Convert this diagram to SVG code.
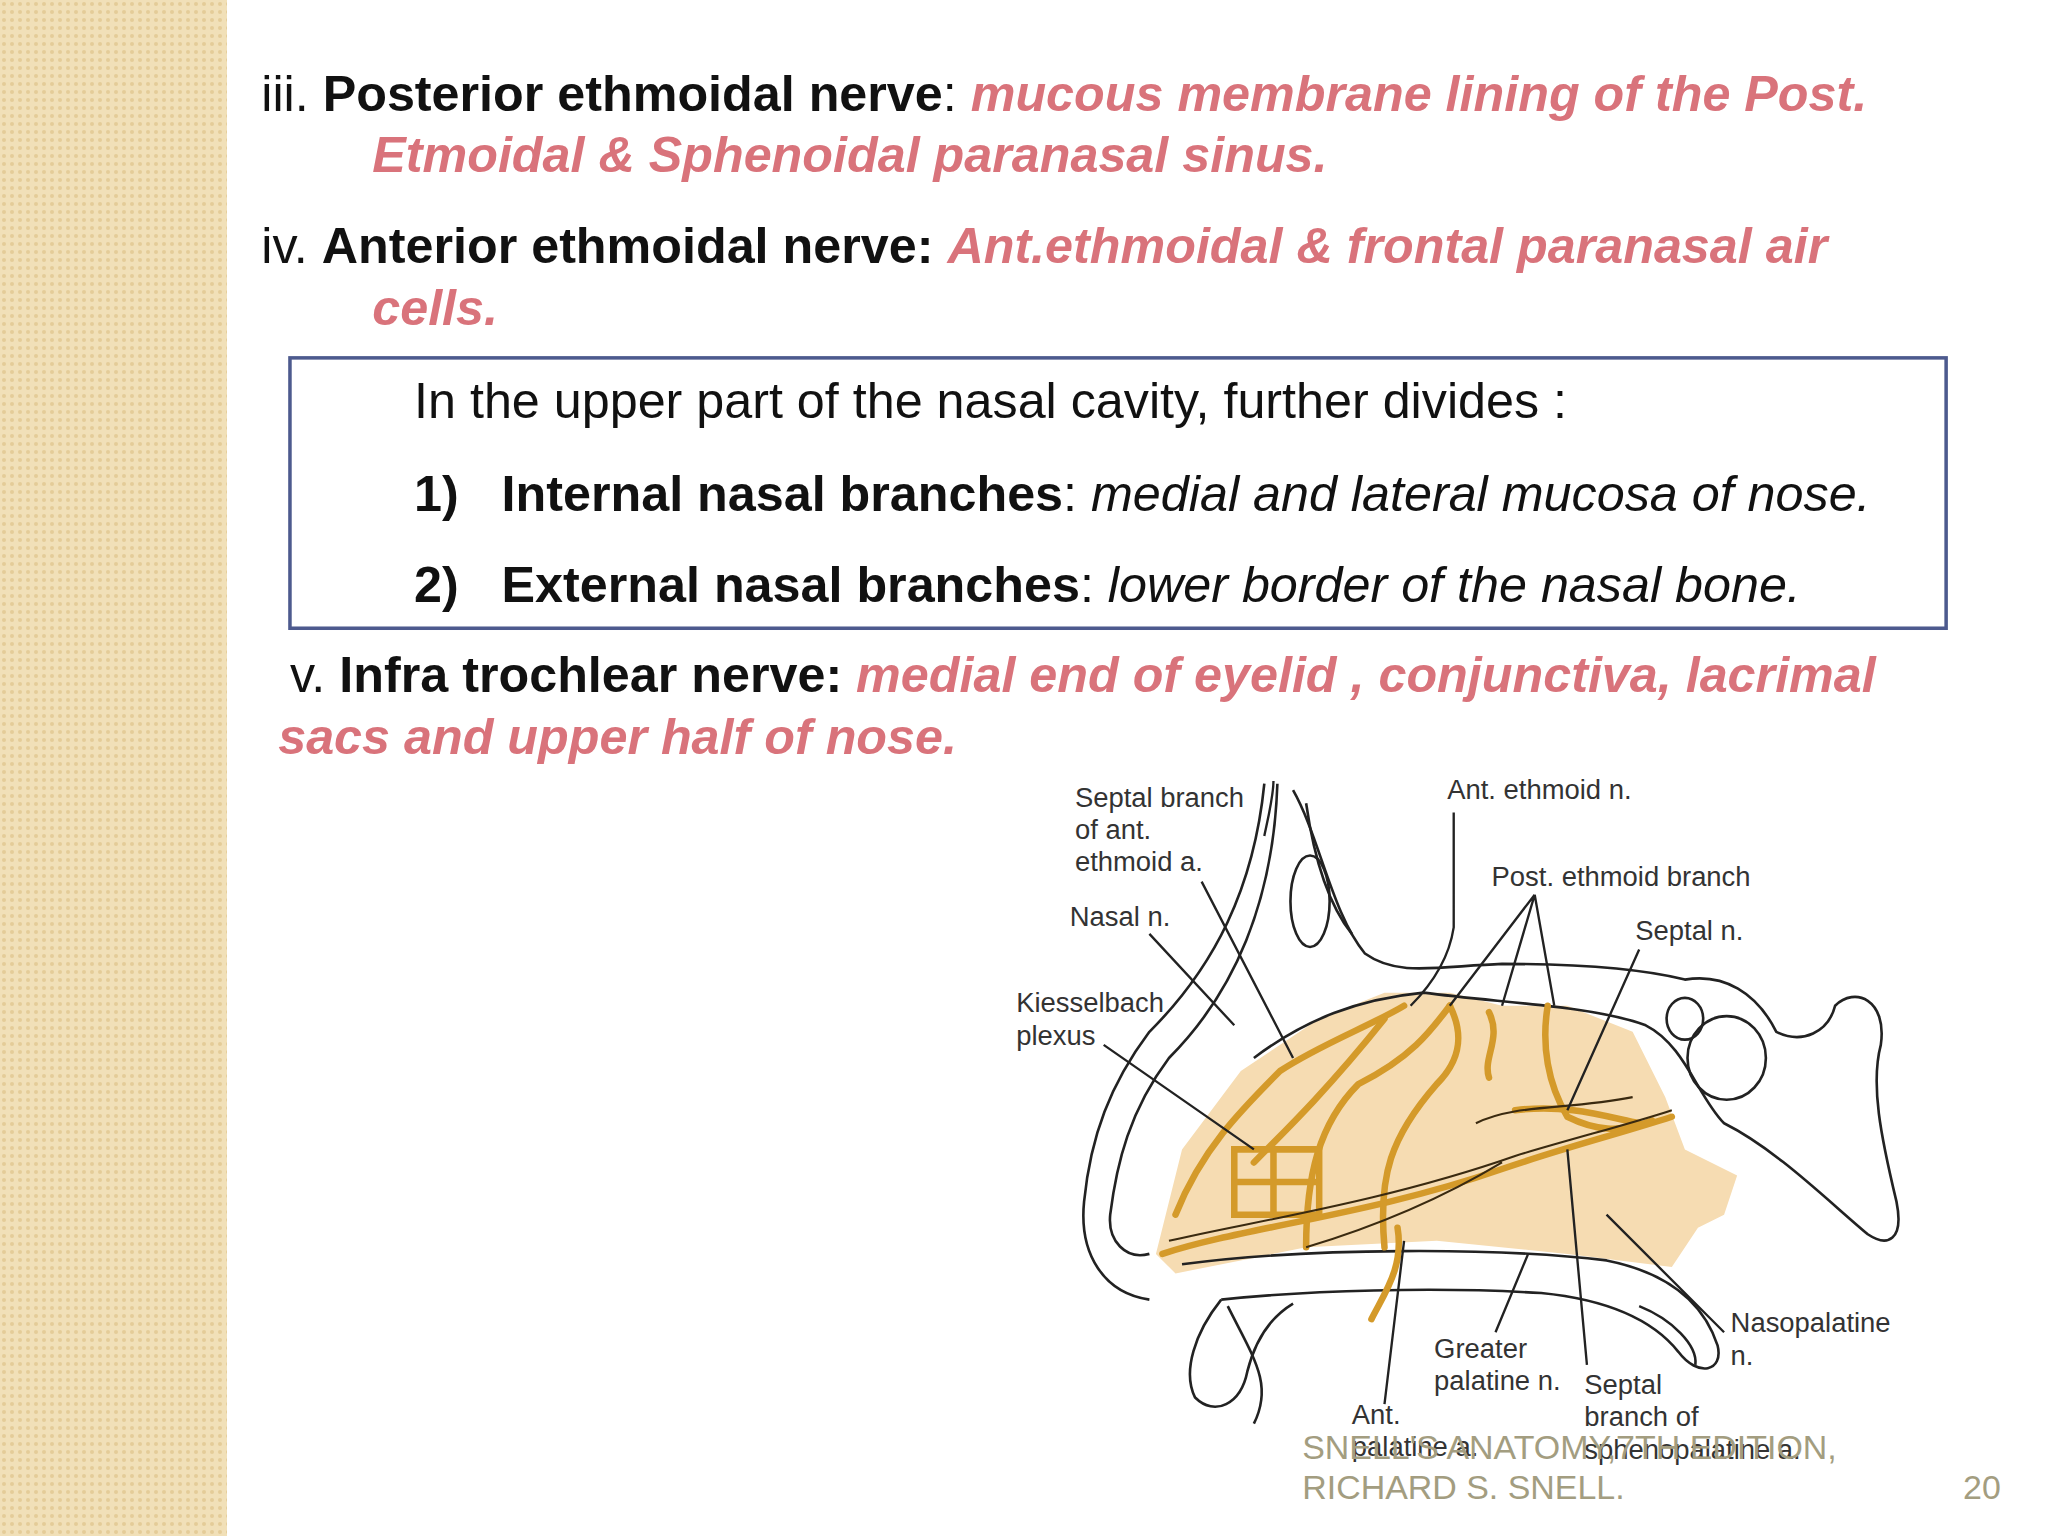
<svg xmlns="http://www.w3.org/2000/svg" width="2048" height="1536" viewBox="0 0 2048 1536">
<defs>
<pattern id="dots" width="8" height="8" patternUnits="userSpaceOnUse"><rect width="8" height="8" fill="#f1e0b8"/><circle cx="4" cy="4" r="2" fill="#e4cc98"/></pattern>
<style>
text{font-family:"Liberation Sans",Arial,sans-serif}
.t{font-size:38.5px;fill:#111}
.b{font-weight:bold}
.p{fill:#d9737b;font-weight:bold;font-style:italic}
.i{font-style:italic}
.l{font-size:21px;fill:#333}
.f{font-size:26px;fill:#a39d80}
.o{fill:none;stroke:#222;stroke-width:2}
.n{fill:none;stroke:#d49a2a;stroke-width:5;stroke-linecap:round}
.nd{fill:none;stroke:#3a2a10;stroke-width:1.6}
.ld{fill:none;stroke:#222;stroke-width:1.8}
</style>
</defs>
<rect width="2048" height="1536" fill="#fff"/>
<rect width="227" height="1536" fill="url(#dots)"/>
<g transform="scale(1.30612)">
<text class="t" x="200" y="85">iii. <tspan class="b">Posterior ethmoidal nerve</tspan>: <tspan class="p">mucous membrane lining of the Post.</tspan></text>
<text class="t p" x="285" y="132">Etmoidal &amp; Sphenoidal paranasal  sinus.</text>
<text class="t" x="200" y="201">iv. <tspan class="b">Anterior ethmoidal nerve:</tspan>  <tspan class="p">Ant.ethmoidal &amp; frontal paranasal air</tspan></text>
<text class="t p" x="285" y="249">cells.</text>
<rect x="222" y="274" width="1268" height="207" fill="#fff" stroke="#4d5a8e" stroke-width="2.7"/>
<text class="t" x="317" y="320">In the upper part of the nasal cavity, further divides :</text>
<text class="t" x="317" y="391"><tspan class="b">1)</tspan><tspan x="384" class="b">Internal nasal branches</tspan>: <tspan class="i">medial and lateral mucosa of nose.</tspan></text>
<text class="t" x="317" y="461"><tspan class="b">2)</tspan><tspan x="384" class="b">External nasal branches</tspan>:  <tspan class="i">lower border of the nasal bone.</tspan></text>
<text class="t" x="222" y="530">v. <tspan class="b">Infra trochlear nerve:</tspan> <tspan class="p">medial end of eyelid , conjunctiva, lacrimal</tspan></text>
<text class="t p" x="213" y="577">sacs and upper half of nose.</text>
<g id="illustration">
<path d="M885,960 L905,880 L950,820 L1010,780 L1060,760 L1110,760 L1150,770 L1200,770 L1250,790 L1275,840 L1290,880 L1330,900 L1320,930 L1300,940 L1280,970 L1200,960 L1100,950 L1000,955 L900,975 Z" fill="#f6dcb2"/>
<path class="o" d="M968,600 C960,680 930,740 880,790 C850,830 835,870 830,920 C826,960 845,990 880,995"/>
<path class="o" d="M978,600 C975,690 945,760 895,810 C865,850 855,890 850,930 C848,950 862,965 880,960"/>
<path class="o" d="M990,605 C1010,640 1020,700 1045,730 C1070,748 1100,740 1150,738 C1200,738 1250,740 1290,750 C1320,745 1345,760 1360,790 C1380,800 1400,790 1405,770 C1420,755 1445,765 1440,800 C1432,830 1440,870 1452,920 C1458,950 1445,955 1430,945 C1400,920 1360,880 1320,860 C1300,840 1290,800 1260,785 C1220,770 1150,768 1090,760 C1040,765 1000,780 960,810"/>
<path class="o" d="M1000,615 C1005,650 1015,690 1035,715"/>
<ellipse cx="1322" cy="810" rx="30" ry="32" class="o"/>
<ellipse cx="1290" cy="780" rx="14" ry="16" class="o"/>
<ellipse cx="1003" cy="690" rx="15" ry="35" class="o"/>
<path class="o" d="M905,968 C1000,955 1150,955 1230,965 C1280,975 1305,1000 1315,1030 C1320,1050 1300,1055 1285,1035 C1265,1010 1230,995 1180,990 C1100,985 1000,988 935,995"/>
<path class="o" d="M935,995 C915,1020 905,1050 915,1070 C930,1085 950,1075 955,1050 C960,1030 970,1010 990,998"/>
<path class="o" d="M940,1000 C960,1040 975,1060 960,1090"/>
<path class="o" d="M1255,1000 C1280,1010 1300,1030 1298,1045"/>
<path class="n" d="M890,960 C950,940 1050,930 1150,895 C1200,878 1240,868 1280,855"/>
<path class="n" d="M900,930 C920,880 950,850 980,820 C1010,800 1050,785 1075,770"/>
<path class="n" d="M960,890 C990,860 1020,830 1060,780"/>
<path class="n" d="M1000,955 C1000,900 1010,860 1040,830 C1080,810 1095,790 1110,770"/>
<path class="n" d="M1060,955 C1055,900 1065,870 1100,830 C1120,810 1120,790 1110,770"/>
<path class="n" d="M1140,775 C1150,795 1135,810 1140,825"/>
<path class="n" d="M1185,770 C1180,800 1185,830 1200,855 C1220,865 1240,868 1265,858"/>
<path class="n" d="M1160,850 C1200,845 1230,855 1255,860"/>
<path class="n" d="M945,880 L1010,880 L1010,930 L945,930 Z M945,905 L1010,905 M975,880 L975,930"/>
<path class="n" d="M1070,940 C1075,970 1060,990 1050,1010"/>
<path class="nd" d="M895,950 C960,935 1060,920 1160,885 C1210,870 1250,860 1280,850 M1000,955 C1050,940 1100,920 1150,890 M1130,860 C1160,845 1200,850 1250,840"/>
<path class="ld" d="M975,598 C975,610 970,630 968,640"/>
<path class="ld" d="M920,675 L990,810 M880,715 L945,785 M845,800 L960,880 M1113,622 L1113,710 C1110,730 1100,750 1080,770 M1175,685 L1110,770 M1175,685 L1150,770 M1175,685 L1190,770 M1255,727 L1200,850 M1320,1020 L1230,930 M1145,1020 L1170,960 M1215,1045 L1200,880 M1060,1075 L1075,950"/>
<text class="l" x="823" y="618">Septal branch</text>
<text class="l" x="823" y="642">of ant.</text>
<text class="l" x="823" y="667">ethmoid a.</text>
<text class="l" x="1108" y="612">Ant. ethmoid n.</text>
<text class="l" x="1142" y="678">Post. ethmoid branch</text>
<text class="l" x="819" y="709">Nasal n.</text>
<text class="l" x="1252" y="720">Septal n.</text>
<text class="l" x="778" y="775">Kiesselbach</text>
<text class="l" x="778" y="800">plexus</text>
<text class="l" x="1325" y="1020">Nasopalatine</text>
<text class="l" x="1325" y="1045">n.</text>
<text class="l" x="1098" y="1040">Greater</text>
<text class="l" x="1098" y="1064">palatine n.</text>
<text class="l" x="1213" y="1067">Septal</text>
<text class="l" x="1213" y="1092">branch of</text>
<text class="l" x="1213" y="1117">sphenopalatine a.</text>
<text class="l" x="1035" y="1090">Ant.</text>
<text class="l" x="1035" y="1115">palatine a.</text>
</g>
<text class="f" x="997" y="1117">SNELL'S ANATOMY,7TH EDITION,</text>
<text class="f" x="997" y="1148">RICHARD S. SNELL.</text>
<text class="f" x="1503" y="1148">20</text>
</g>
</svg>
